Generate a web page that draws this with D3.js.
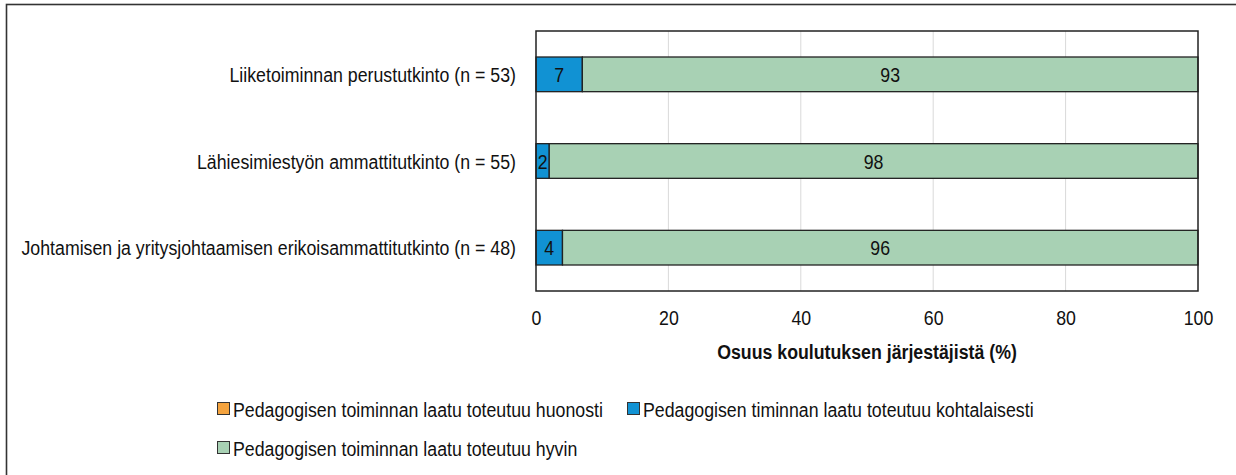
<!DOCTYPE html>
<html><head><meta charset="utf-8">
<script src="https://cdn.jsdelivr.net/npm/d3@7"></script>
<style>
html,body{margin:0;padding:0;background:#fff;}
svg{display:block;}
text{font-family:"Liberation Sans Narrow","Arial Narrow","Liberation Sans",Arial,sans-serif;}
</style></head>
<body>
<svg id="chart" width="1236" height="475"></svg>
<script>
const categories = [
  "Liiketoiminnan perustutkinto (n = 53)",
  "Lähiesimiestyön ammattitutkinto (n = 55)",
  "Johtamisen ja yritysjohtaamisen erikoisammattitutkinto (n = 48)"
];
const seriesNames = [
  "Pedagogisen toiminnan laatu toteutuu huonosti",
  "Pedagogisen timinnan laatu toteutuu kohtalaisesti",
  "Pedagogisen toiminnan laatu toteutuu hyvin"
];
const huonosti = [0, 0, 0];
const kohtalaisesti = [7, 2, 4];
const hyvin = [93, 98, 96];
const xTicks = [0, 20, 40, 60, 80, 100];
const colors = ["#f4a33e", "#1192d3", "#a8d1b4"];
const axisTitle = "Osuus koulutuksen järjestäjistä (%)";

const FS = 21;
const SQUEEZE = 0.845;
// condense text horizontally around its own anchor point
function narrow(sel) {
  sel.each(function() {
    const t = d3.select(this);
    const tx = +t.attr("x") || 0, ty = +t.attr("y") || 0;
    t.attr("x", 0).attr("y", 0).attr("transform", `translate(${tx},${ty}) scale(${SQUEEZE},1)`);
  });
}

const svg = d3.select("#chart");
const M = {left: 536, right: 1198, top: 31, bottom: 291};

// outer frame
svg.append("rect").attr("x", 6.5).attr("y", 4.5).attr("width", 1240).attr("height", 480)
  .attr("fill", "none").attr("stroke", "#333").attr("stroke-width", 1.6);

const x = d3.scaleLinear().domain([0, 100]).range([M.left, M.right]);
const y = d3.scaleBand().domain(categories).range([M.top, M.bottom]).paddingInner(0.6).paddingOuter(0.3);

// grid
svg.append("g").selectAll("line").data(xTicks.slice(1, -1)).join("line")
  .attr("x1", d => x(d)).attr("x2", d => x(d)).attr("y1", M.top).attr("y2", M.bottom)
  .attr("stroke", "#d9d9d9").attr("stroke-width", 1);

const rows = categories.map((c, i) => ({cat: c, vals: [huonosti[i], kohtalaisesti[i], hyvin[i]]}));
const stackData = rows.map(r => {
  let acc = 0;
  return r.vals.map((v, k) => { const s = {cat: r.cat, k, v, x0: acc, x1: acc + v}; acc += v; return s; });
}).flat();

const bars = svg.append("g");
bars.selectAll("rect").data(stackData.filter(d => d.v > 0)).join("rect")
  .attr("x", d => x(d.x0)).attr("width", d => x(d.x1) - x(d.x0))
  .attr("y", d => y(d.cat)).attr("height", y.bandwidth())
  .attr("fill", d => colors[d.k]).attr("stroke", "#222").attr("stroke-width", 1.3);

bars.selectAll("text").data(stackData.filter(d => d.v > 0)).join("text")
  .attr("x", d => (x(d.x0) + x(d.x1)) / 2).attr("y", d => y(d.cat) + y.bandwidth() / 2)
  .attr("dy", "0.36em").attr("text-anchor", "middle").attr("font-size", FS).attr("fill", "#111")
  .text(d => d.v).call(narrow);

// plot frame
svg.append("rect").attr("x", M.left).attr("y", M.top).attr("width", M.right - M.left).attr("height", M.bottom - M.top)
  .attr("fill", "none").attr("stroke", "#222").attr("stroke-width", 1.5);

// x axis
const xa = svg.append("g").attr("transform", `translate(0,${M.bottom})`)
  .call(d3.axisBottom(x).tickValues(xTicks).tickSize(0).tickPadding(20));
xa.select(".domain").remove();
xa.selectAll("text").attr("font-size", FS).attr("fill", "#111").attr("y", 26).attr("dy", "0.36em")
  .attr("font-family", null).call(narrow);

// y axis labels
const ya = svg.append("g").attr("transform", `translate(${M.left},0)`)
  .call(d3.axisLeft(y).tickSize(0).tickPadding(20));
ya.select(".domain").remove();
ya.selectAll("text").attr("font-size", FS).attr("fill", "#111").attr("dy", "0.36em")
  .attr("font-family", null).call(narrow);

svg.append("text").attr("x", (M.left + M.right) / 2).attr("y", 351).attr("dy", "0.36em")
  .attr("text-anchor", "middle").attr("font-size", FS).attr("font-weight", "bold").attr("fill", "#111")
  .text(axisTitle).call(narrow);

// legend
const legendPos = [[217, 409], [627, 409], [217, 448]];
const lg = svg.append("g");
seriesNames.forEach((n, i) => {
  const [lx, ly] = legendPos[i];
  lg.append("rect").attr("x", lx + 0.5).attr("y", ly - 6.5).attr("width", 12).attr("height", 12)
    .attr("fill", colors[i]).attr("stroke", "#333").attr("stroke-width", 1);
  lg.append("text").attr("x", lx + 16).attr("y", ly).attr("dy", "0.36em")
    .attr("font-size", FS).attr("fill", "#111").text(n).call(narrow);
});
</script>
</body></html>
